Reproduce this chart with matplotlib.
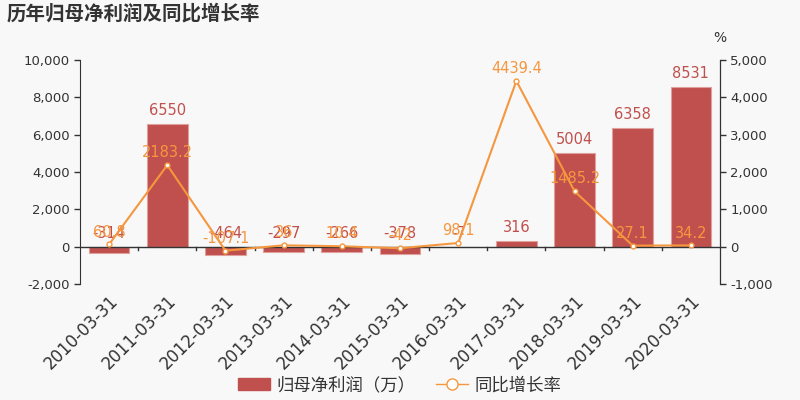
import numpy as np
import matplotlib
matplotlib.use('Agg')
import matplotlib.pyplot as plt
from matplotlib.lines import Line2D
from matplotlib.patches import FancyBboxPatch

plt.rcParams['font.family'] = ['DejaVu Sans', 'Noto Sans CJK SC']
plt.rcParams['axes.unicode_minus'] = False

# data
dates = ['2010-03-31', '2011-03-31', '2012-03-31', '2013-03-31', '2014-03-31',
         '2015-03-31', '2016-03-31', '2017-03-31', '2018-03-31', '2019-03-31',
         '2020-03-31']
profit = [-314, 6550, -464, -297, -266, -378, -7, 316, 5004, 6358, 8531]
growth = [60.8, 2183.2, -107.1, 36, 10.4, -42, 98.1, 4439.4, 1485.2, 27.1, 34.2]

bar_color = '#c0504d'
line_color = '#f5973f'
bg = '#f8f8f8'
txt = '#333333'

fig = plt.figure(figsize=(8, 4), dpi=100, facecolor=bg)
ax = fig.add_axes([0.1, 0.29, 0.8, 0.56])
ax.set_facecolor(bg)
ax2 = ax.twinx()

x = np.arange(len(dates))
ax.bar(x, profit, width=0.7, color=bar_color, edgecolor='#e0a09e', linewidth=0.8, zorder=2)
for xi, v in zip(x, profit):
    ax.text(xi, max(v, 0) + 330, str(v), ha='center', va='bottom',
            color=bar_color, fontsize=10.5)

ax2.plot(x, growth, color=line_color, lw=1.5, marker='o', ms=3.5,
         mfc='white', mec=line_color, mew=1, zorder=3)
for xi, v in zip(x, growth):
    ax2.text(xi, v + 130, f'{v:g}', ha='center', va='bottom',
             color=line_color, fontsize=10.5)

ax.set_xlim(-0.5, len(dates) - 0.5)
ax.set_ylim(-2000, 10000)
ax2.set_ylim(-1000, 5000)
ax.set_yticks(np.arange(-2000, 10001, 2000))
ax.set_yticklabels([f'{v:,}' for v in range(-2000, 10001, 2000)])
ax2.set_yticks(np.arange(-1000, 5001, 1000))
ax2.set_yticklabels([f'{v:,}' for v in range(-1000, 5001, 1000)])

for a in (ax, ax2):
    for s in ('top', 'bottom'):
        a.spines[s].set_visible(False)
    a.tick_params(axis='y', colors=txt, labelsize=9.5, length=4, width=1)
ax.spines['left'].set_color(txt)
ax2.spines['right'].set_color(txt)
ax2.spines['left'].set_visible(False)

# zero line with ticks between categories
ax.axhline(0, color=txt, lw=1, zorder=4)
ax.set_xticks(x)
ax.set_xticklabels(dates, rotation=45, ha='right', rotation_mode='anchor',
                   fontsize=12, color=txt)
ax.tick_params(axis='x', length=0, pad=6)
for b in np.arange(0.5, len(dates) - 0.5, 1):
    ax.plot([b, b], [0, -180], color=txt, lw=1, zorder=4, clip_on=False)

fig.text(0.008, 0.965, '历年归母净利润及同比增长率', fontsize=14, fontweight='bold',
         color=txt, va='center', family=['Noto Sans CJK SC', 'DejaVu Sans'])
fig.text(0.9, 0.905, '%', fontsize=10, color=txt, ha='center', va='center')

handles = [FancyBboxPatch((0, 0), 1, 1, boxstyle='round,pad=0.1', color=bar_color),
           Line2D([0], [0], color=line_color, lw=1, marker='o', ms=8,
                  mfc='white', mec=line_color)]
leg = fig.legend(handles, ['归母净利润（万）', '同比增长率'], loc='lower center',
                 bbox_to_anchor=(0.5, -0.025), ncol=2, frameon=False,
                 handlelength=1.8, columnspacing=1.2, handletextpad=0.4,
                 prop={'family': ['Noto Sans CJK SC', 'DejaVu Sans'], 'size': 12.5})
for t in leg.get_texts():
    t.set_color(txt)

fig.savefig('out.png', dpi=100, facecolor=bg)
